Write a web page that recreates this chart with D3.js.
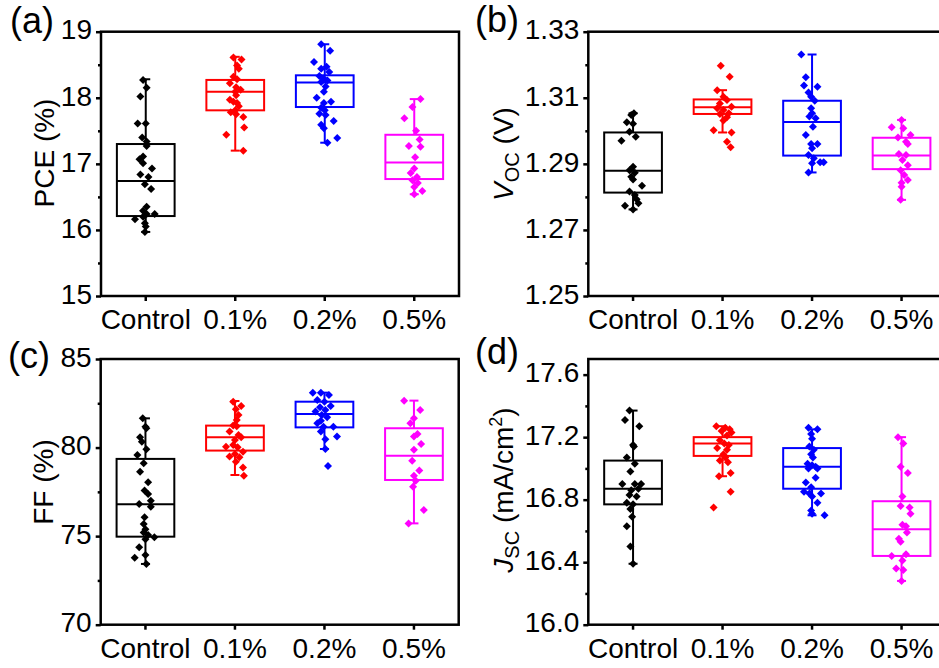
<!DOCTYPE html>
<html>
<head>
<meta charset="utf-8">
<script src="https://cdn.jsdelivr.net/npm/d3@7"></script>
<style>
  html, body { margin: 0; padding: 0; background: #fff; }
  svg { display: block; }
  text { font-family: "Liberation Sans", Arial, sans-serif; fill: #000; }
</style>
</head>
<body>
<svg id="chart" width="939" height="668"></svg>
<script>
// ---------- categories & colours ----------
const categories = ["Control", "0.1%", "0.2%", "0.5%"];
const groupColors = ["#000000", "#ff0000", "#0000ff", "#ff00ff"];

// ---------- (a) PCE (%) ----------
const pceControl = [18.27, 18.15, 18.02, 17.61, 17.61, 17.40, 17.34, 17.27, 17.11, 17.07, 17.01, 16.93, 16.84, 16.80, 16.69, 16.62, 16.35, 16.29, 16.24, 16.24, 16.20, 16.16, 16.10, 16.05, 15.97];
const pceControlJit = [-0.03, 0.01, -0.06, -0.09, 0.00, -0.04, 0.01, 0.01, -0.03, -0.07, -0.03, 0.07, -0.06, 0.03, -0.01, 0.06, 0.01, -0.03, 0.10, 0.01, -0.03, -0.12, -0.01, 0.00, -0.01];
const pce01 = [18.61, 18.58, 18.49, 18.44, 18.32, 18.28, 18.22, 18.16, 18.12, 18.09, 18.04, 17.97, 17.94, 17.92, 17.87, 17.81, 17.78, 17.75, 17.71, 17.55, 17.44, 17.20];
const pce01Jit = [-0.02, 0.07, 0.02, 0.04, -0.02, 0.02, -0.06, 0.01, 0.06, 0.00, 0.01, -0.06, -0.02, 0.02, 0.04, 0.00, -0.05, 0.01, 0.09, 0.10, -0.10, 0.09];
const pce02 = [18.81, 18.71, 18.54, 18.47, 18.44, 18.39, 18.33, 18.29, 18.26, 18.24, 18.17, 18.09, 18.00, 17.94, 17.92, 17.85, 17.81, 17.76, 17.74, 17.65, 17.59, 17.54, 17.39, 17.32];
const pce02Jit = [-0.04, 0.06, -0.12, 0.02, -0.04, 0.05, -0.06, -0.01, 0.03, -0.04, 0.01, -0.01, -0.09, 0.07, -0.01, -0.04, 0.00, -0.06, 0.01, 0.10, -0.04, -0.01, 0.14, 0.03];
const pce05 = [17.98, 17.86, 17.69, 17.50, 17.37, 17.27, 17.26, 17.10, 16.93, 16.86, 16.80, 16.75, 16.71, 16.65, 16.59, 16.54];
const pce05Jit = [0.07, -0.02, -0.11, 0.02, 0.06, -0.06, 0.07, 0.01, 0.00, -0.04, 0.03, -0.02, 0.04, 0.00, 0.09, 0.00];
const pceQ1 = [16.21, 17.81, 17.86, 16.77];
const pceMedian = [16.74, 18.09, 18.23, 17.02];
const pceQ3 = [17.30, 18.27, 18.34, 17.44];
const pceMin = [15.97, 17.20, 17.32, 16.54];
const pceMax = [18.28, 18.62, 18.81, 17.98];
const pceTicks = [15, 16, 17, 18, 19];
const pceMinorTicks = [15.5, 16.5, 17.5, 18.5];

// ---------- (b) Voc (V) ----------
const vocControl = [1.3053, 1.3048, 1.3026, 1.3021, 1.2997, 1.2982, 1.2970, 1.2891, 1.2881, 1.2873, 1.2861, 1.2853, 1.2834, 1.2816, 1.2806, 1.2793, 1.2781, 1.2773, 1.2762];
const vocControlJit = [0.01, -0.02, -0.07, 0.00, -0.04, 0.03, -0.13, 0.00, -0.04, 0.02, -0.02, 0.00, 0.10, -0.04, 0.02, 0.04, 0.06, -0.09, 0.00];
const voc01 = [1.3197, 1.3164, 1.3123, 1.3103, 1.3093, 1.3083, 1.3073, 1.3068, 1.3063, 1.3053, 1.3051, 1.3041, 1.3031, 1.3002, 1.2995, 1.2967, 1.2950];
const voc01Jit = [-0.02, 0.08, -0.06, 0.01, 0.05, -0.03, 0.10, -0.06, 0.01, 0.07, -0.03, 0.05, 0.01, -0.10, 0.10, 0.05, 0.09];
const voc02 = [1.3231, 1.3162, 1.3137, 1.3133, 1.3116, 1.3103, 1.3091, 1.3068, 1.3053, 1.3043, 1.3038, 1.3012, 1.2987, 1.2960, 1.2960, 1.2947, 1.2927, 1.2917, 1.2905, 1.2905, 1.2902, 1.2874];
const voc02Jit = [-0.12, -0.07, -0.09, 0.06, -0.04, -0.01, 0.03, -0.01, 0.00, -0.03, 0.04, 0.01, -0.07, 0.06, -0.01, 0.00, -0.04, 0.02, 0.09, 0.13, 0.00, -0.04];
const voc05 = [1.3033, 1.3011, 1.3008, 1.2987, 1.2980, 1.2967, 1.2960, 1.2930, 1.2927, 1.2912, 1.2896, 1.2881, 1.2866, 1.2851, 1.2843, 1.2831, 1.2791];
const voc05Jit = [0.00, -0.11, 0.02, 0.10, -0.04, 0.05, 0.07, -0.03, 0.05, 0.01, 0.07, -0.01, 0.03, 0.07, 0.00, 0.00, -0.01];
const vocQ1 = [1.2813, 1.3051, 1.2925, 1.2884];
const vocMedian = [1.2879, 1.3071, 1.3027, 1.2925];
const vocQ3 = [1.2995, 1.3095, 1.3091, 1.2979];
const vocMin = [1.2762, 1.2995, 1.2874, 1.2791];
const vocMax = [1.3053, 1.3123, 1.3231, 1.3033];
const vocTicks = [1.25, 1.27, 1.29, 1.31, 1.33];
const vocMinorTicks = [1.26, 1.28, 1.30, 1.32];

// ---------- (c) FF (%) ----------
const ffControl = [81.65, 81.18, 81.09, 80.58, 80.33, 79.90, 79.58, 79.11, 78.64, 78.04, 77.57, 77.38, 77.00, 76.82, 76.66, 76.06, 75.69, 75.39, 75.20, 75.07, 74.94, 74.82, 74.37, 73.94, 73.78, 73.43];
const ffControlJit = [-0.03, 0.00, 0.01, -0.06, -0.04, 0.01, -0.09, -0.02, -0.06, 0.03, -0.01, 0.03, 0.06, -0.07, 0.06, -0.01, -0.02, 0.00, -0.02, 0.03, 0.10, 0.00, -0.07, 0.00, -0.12, 0.01];
const ff01 = [82.59, 82.35, 82.16, 81.84, 81.56, 81.24, 81.20, 80.90, 80.71, 80.58, 80.43, 80.15, 80.05, 80.02, 79.77, 79.64, 79.49, 79.45, 79.20, 78.88, 78.41];
const ff01Jit = [-0.02, 0.07, 0.01, 0.04, 0.02, -0.02, 0.02, -0.06, 0.04, 0.07, 0.00, -0.02, -0.10, 0.03, 0.09, 0.00, -0.06, 0.05, 0.01, 0.09, 0.10];
const ff02 = [83.10, 83.10, 82.97, 82.69, 82.59, 82.35, 82.27, 82.12, 82.03, 81.84, 81.71, 81.52, 81.37, 81.18, 81.18, 80.90, 80.62, 80.47, 79.92, 78.96];
const ff02Jit = [-0.13, -0.04, 0.05, -0.08, 0.00, 0.07, -0.05, 0.01, -0.10, -0.03, 0.03, -0.04, -0.08, 0.10, -0.01, -0.04, 0.14, 0.01, 0.01, 0.04];
const ff05 = [82.65, 82.12, 81.65, 81.37, 80.77, 80.62, 80.20, 79.87, 79.26, 78.70, 78.41, 78.13, 77.79, 76.48, 75.72];
const ff05Jit = [-0.11, 0.07, 0.00, -0.04, 0.04, 0.00, 0.08, 0.00, -0.02, 0.06, 0.00, 0.02, -0.01, 0.11, -0.06];
const ffQ1 = [74.97, 79.83, 81.14, 78.17];
const ffMedian = [76.80, 80.58, 81.90, 79.54];
const ffQ3 = [79.36, 81.24, 82.59, 81.09];
const ffMin = [73.43, 78.45, 79.92, 75.72];
const ffMax = [81.65, 82.63, 83.10, 82.65];
const ffTicks = [70, 75, 80, 85];
const ffMinorTicks = [72.5, 77.5, 82.5];

// ---------- (d) Jsc (mA/cm2) ----------
const jscControl = [17.37, 17.31, 17.27, 17.15, 17.14, 17.07, 17.03, 16.98, 16.90, 16.90, 16.90, 16.87, 16.86, 16.83, 16.82, 16.78, 16.77, 16.74, 16.69, 16.63, 16.50, 16.39];
const jscControlJit = [-0.04, -0.09, 0.07, 0.00, 0.01, -0.07, 0.02, -0.03, -0.12, 0.02, 0.09, 0.06, -0.02, -0.04, 0.04, -0.07, 0.00, -0.03, -0.01, -0.07, -0.03, 0.00];
const jsc01 = [17.27, 17.26, 17.25, 17.24, 17.23, 17.21, 17.18, 17.16, 17.15, 17.13, 17.12, 17.09, 17.07, 17.05, 17.04, 16.97, 16.95, 16.85, 16.75];
const jsc01Jit = [-0.07, 0.03, 0.08, -0.01, 0.10, 0.05, -0.03, 0.02, 0.07, -0.06, 0.05, 0.01, 0.03, -0.03, 0.06, 0.09, -0.04, 0.09, -0.10];
const jsc02 = [17.26, 17.25, 17.22, 17.19, 17.14, 17.12, 17.09, 17.07, 17.03, 17.02, 17.01, 17.00, 17.00, 16.94, 16.91, 16.88, 16.85, 16.84, 16.84, 16.82, 16.78, 16.73, 16.71, 16.70];
const jsc02Jit = [-0.04, 0.06, -0.01, 0.00, -0.03, 0.02, -0.01, 0.01, -0.05, 0.00, 0.04, -0.04, 0.06, 0.04, -0.07, -0.01, -0.09, 0.10, -0.03, 0.00, 0.06, -0.01, 0.00, 0.14];
const jsc05 = [17.20, 17.16, 17.01, 16.97, 16.82, 16.76, 16.75, 16.71, 16.64, 16.63, 16.59, 16.55, 16.53, 16.44, 16.45, 16.41, 16.36, 16.35, 16.28];
const jsc05Jit = [-0.04, 0.02, -0.01, 0.07, 0.01, -0.01, 0.09, 0.10, 0.01, 0.05, 0.06, -0.03, -0.01, -0.11, 0.05, 0.01, -0.06, 0.02, 0.00];
const jscQ1 = [16.77, 17.08, 16.87, 16.44];
const jscMedian = [16.87, 17.16, 17.01, 16.61];
const jscQ3 = [17.05, 17.20, 17.13, 16.79];
const jscMin = [16.39, 16.95, 16.70, 16.28];
const jscMax = [17.37, 17.27, 17.25, 17.20];
const jscTicks = [16.0, 16.4, 16.8, 17.2, 17.6];
const jscMinorTicks = [16.2, 16.6, 17.0, 17.4];

// ---------- panel setup ----------
const panels = [
  { tag: "(a)", tagX: 10, tagY: 33, left: 101, top: 31.7, bottom: 296, domain: [15, 19],
    ticks: pceTicks, minor: pceMinorTicks, fmt: d3.format("d"),
    values: [pceControl, pce01, pce02, pce05], jitter: [pceControlJit, pce01Jit, pce02Jit, pce05Jit],
    q1: pceQ1, med: pceMedian, q3: pceQ3, lo: pceMin, hi: pceMax,
    titleX: 54, titleY: 153, title: "pce" },
  { tag: "(b)", tagX: 475, tagY: 31.5, left: 588.3, top: 31.7, bottom: 296, domain: [1.25, 1.33],
    ticks: vocTicks, minor: vocMinorTicks, fmt: d3.format(".2f"),
    values: [vocControl, voc01, voc02, voc05], jitter: [vocControlJit, voc01Jit, voc02Jit, voc05Jit],
    q1: vocQ1, med: vocMedian, q3: vocQ3, lo: vocMin, hi: vocMax,
    titleX: 513, titleY: 154, title: "voc" },
  { tag: "(c)", tagX: 8, tagY: 368, left: 100.7, top: 359, bottom: 624.7, domain: [70, 85],
    ticks: ffTicks, minor: ffMinorTicks, fmt: d3.format("d"),
    values: [ffControl, ff01, ff02, ff05], jitter: [ffControlJit, ff01Jit, ff02Jit, ff05Jit],
    q1: ffQ1, med: ffMedian, q3: ffQ3, lo: ffMin, hi: ffMax,
    titleX: 53, titleY: 482, title: "ff" },
  { tag: "(d)", tagX: 475, tagY: 364, left: 588.3, top: 359, bottom: 624.7, domain: [16.0, 17.7],
    ticks: jscTicks, minor: jscMinorTicks, fmt: d3.format(".1f"),
    values: [jscControl, jsc01, jsc02, jsc05], jitter: [jscControlJit, jsc01Jit, jsc02Jit, jsc05Jit],
    q1: jscQ1, med: jscMedian, q3: jscQ3, lo: jscMin, hi: jscMax,
    titleX: 513, titleY: 490, title: "jsc" }
];

const svg = d3.select("#chart");
const plotWidth = 358;
const fontSize = 28;
const lineW = 2;
const frameW = 2.5;

function diamond(r) {
  return `M0,${-r}L${r},0L0,${r}L${-r},0Z`;
}

panels.forEach(p => {
  const g = svg.append("g");
  const x = d3.scaleBand().domain(categories).range([p.left, p.left + plotWidth]).padding(0);
  const y = d3.scaleLinear().domain(p.domain).range([p.bottom, p.top]);
  const cx = c => x(c) + x.bandwidth() / 2;
  const boxW = x.step() * 0.645;
  const capW = 9;

  // frame
  g.append("rect")
    .attr("x", p.left).attr("y", p.top)
    .attr("width", plotWidth).attr("height", p.bottom - p.top)
    .attr("fill", "none").attr("stroke", "#000").attr("stroke-width", frameW);

  // left axis (outward ticks)
  const yAxis = d3.axisLeft(y).tickValues(p.ticks).tickFormat(p.fmt).tickSize(5).tickPadding(4);
  const ya = g.append("g").attr("transform", `translate(${p.left},0)`).call(yAxis);
  ya.select(".domain").remove();
  ya.selectAll(".tick line").attr("stroke", "#000").attr("stroke-width", frameW);
  ya.selectAll(".tick text").attr("font-size", fontSize).attr("dy", "0.26em")
    .attr("font-family", "Liberation Sans, Arial, sans-serif").attr("fill", "#000");

  const yMinor = d3.axisLeft(y).tickValues(p.minor).tickFormat("").tickSize(3);
  const ym = g.append("g").attr("transform", `translate(${p.left},0)`).call(yMinor);
  ym.select(".domain").remove();
  ym.selectAll(".tick line").attr("stroke", "#000").attr("stroke-width", frameW);

  // bottom axis
  const xAxis = d3.axisBottom(x).tickSize(5).tickPadding(8);
  const xa = g.append("g").attr("transform", `translate(0,${p.bottom})`).call(xAxis);
  xa.select(".domain").remove();
  xa.selectAll(".tick line").attr("stroke", "#000").attr("stroke-width", frameW);
  xa.selectAll(".tick text").attr("font-size", fontSize)
    .attr("font-family", "Liberation Sans, Arial, sans-serif").attr("fill", "#000");

  // boxes, whiskers, medians
  categories.forEach((c, i) => {
    const col = groupColors[i];
    const xc = cx(c);
    const bg = g.append("g").attr("stroke", col).attr("stroke-width", lineW).attr("fill", "none");
    bg.append("line").attr("x1", xc).attr("x2", xc).attr("y1", y(p.q3[i])).attr("y2", y(p.hi[i]));
    bg.append("line").attr("x1", xc).attr("x2", xc).attr("y1", y(p.q1[i])).attr("y2", y(p.lo[i]));
    bg.append("line").attr("x1", xc - capW / 2).attr("x2", xc + capW / 2).attr("y1", y(p.hi[i])).attr("y2", y(p.hi[i]));
    bg.append("line").attr("x1", xc - capW / 2).attr("x2", xc + capW / 2).attr("y1", y(p.lo[i])).attr("y2", y(p.lo[i]));
    bg.append("rect").attr("x", xc - boxW / 2).attr("y", y(p.q3[i]))
      .attr("width", boxW).attr("height", y(p.q1[i]) - y(p.q3[i]));
    bg.append("line").attr("x1", xc - boxW / 2).attr("x2", xc + boxW / 2)
      .attr("y1", y(p.med[i])).attr("y2", y(p.med[i]));

    // individual devices
    const pts = p.values[i].map((v, k) => ({ v, j: p.jitter[i][k] }));
    g.append("g").selectAll("path").data(pts).join("path")
      .attr("d", diamond(4))
      .attr("transform", d => `translate(${xc + d.j * x.step()},${y(d.v)})`)
      .attr("fill", col);
  });

  // panel tag
  svg.append("text").attr("x", p.tagX).attr("y", p.tagY)
    .attr("font-size", 36).text(p.tag);

  // y title
  const t = svg.append("text")
    .attr("transform", `translate(${p.titleX},${p.titleY}) rotate(-90)`)
    .attr("text-anchor", "middle").attr("font-size", fontSize);
  if (p.title === "pce") {
    t.text("PCE (%)");
  } else if (p.title === "ff") {
    t.text("FF (%)");
  } else if (p.title === "voc") {
    t.append("tspan").attr("font-style", "italic").text("V");
    t.append("tspan").attr("font-size", 20).attr("dy", 6).text("OC");
    t.append("tspan").attr("dy", -6).text(" (V)");
  } else {
    t.append("tspan").attr("font-style", "italic").text("J");
    t.append("tspan").attr("font-size", 20).attr("dy", 6).text("SC");
    t.append("tspan").attr("dy", -6).text(" (mA/cm");
    t.append("tspan").attr("font-size", 18).attr("dy", -11).text("2");
    t.append("tspan").attr("dy", 11).text(")");
  }
});
</script>
</body>
</html>
